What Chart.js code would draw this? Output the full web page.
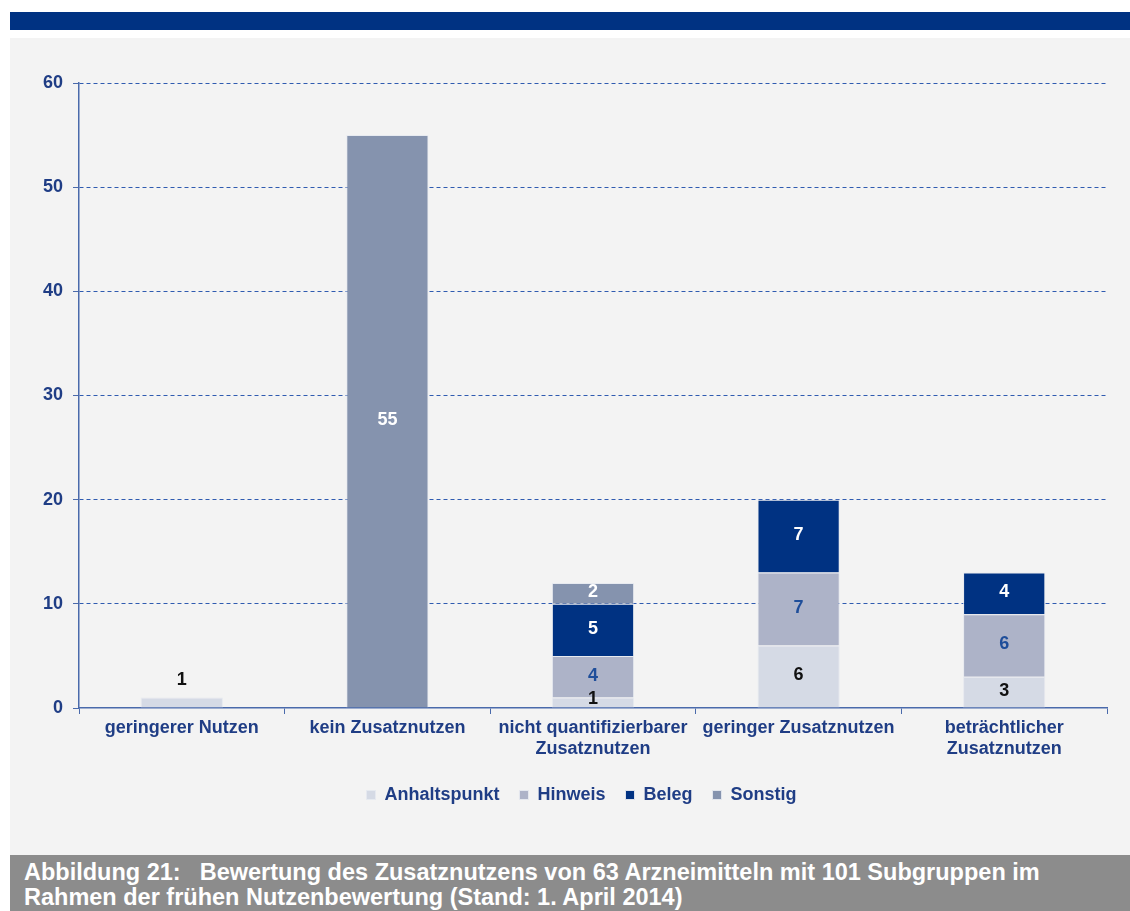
<!DOCTYPE html>
<html lang="de">
<head>
<meta charset="utf-8">
<script src="https://cdn.jsdelivr.net/npm/chart.js@4.4.1/dist/chart.umd.min.js"></script>
<style>
  body{margin:0;background:#fff;width:1130px;height:911px;overflow:hidden;font-family:"Liberation Sans",Arial,sans-serif;}
  #band{position:absolute;left:10px;top:12px;width:1120px;height:18px;background:#003282;}
  #panel{position:absolute;left:10px;top:38px;width:1120px;height:817px;background:#f3f3f3;}
  #caption{position:absolute;left:10px;top:855px;width:1120px;height:56px;background:#8c8c8c;color:#fff;overflow:hidden;
    font-weight:bold;font-size:23.5px;line-height:25px;padding:5px 0 0 14px;box-sizing:border-box;white-space:nowrap;}
  #caption .gap{display:inline-block;width:19px;}
</style>
</head>
<body>
<div id="band"></div>
<div id="panel"><canvas id="chart" width="1120" height="817"></canvas></div>
<div id="caption">Abbildung 21:<span class="gap"></span>Bewertung des Zusatznutzens von 63 Arzneimitteln mit 101 Subgruppen im<br>Rahmen der frühen Nutzenbewertung (Stand: 1. April 2014)</div>

<script>
// categories
const categories = [
  'geringerer Nutzen',
  'kein Zusatznutzen',
  ['nicht quantifizierbarer', 'Zusatznutzen'],
  'geringer Zusatznutzen',
  ['beträchtlicher', 'Zusatznutzen']
];

// series (null = no segment)
const anhaltspunkt = [1, null, 1, 6, 3];
const hinweis      = [null, null, 4, 7, 6];
const beleg        = [null, null, 5, 7, 4];
const sonstig      = [null, 55, 2, null, null];

const yTicks = [0, 10, 20, 30, 40, 50, 60];

const axisColor = '#4a6aab';
const gridColor = '#2f5bb0';
const textColor = '#1f3d85';
const fontFamily = '"Liberation Sans", Arial, sans-serif';
const labelFont = 'bold 18px ' + fontFamily;

// value labels inside / above the bars
const barLabels = {
  id: 'barLabels',
  afterDatasetsDraw(chart){
    const ctx = chart.ctx;
    ctx.save();
    ctx.font = labelFont;
    ctx.textAlign = 'center';
    ctx.textBaseline = 'middle';
    chart.data.datasets.forEach((ds, di) => {
      const meta = chart.getDatasetMeta(di);
      meta.data.forEach((bar, i) => {
        const v = ds.data[i];
        if(v == null) return;
        // is this the top segment of the stack?
        let top = true;
        for(let k = di + 1; k < chart.data.datasets.length; k++){
          if(chart.data.datasets[k].data[i] != null) top = false;
        }
        const h = Math.abs(bar.base - bar.y);
        let y = (bar.y + bar.base) / 2 - 1;
        if(top && h < 14) y = bar.y - 18;
        else if(h < 14) y -= 3;
        ctx.fillStyle = ds.labelColor;
        ctx.fillText(String(v), bar.x, y);
      });
    });
    ctx.restore();
  }
};

// legend sits a bit right of the canvas centre
const legendShift = {
  id: 'legendShift',
  afterLayout(chart){
    chart.legend.left += 23;
    chart.legend.right += 23;
  }
};

const ctx = document.getElementById('chart').getContext('2d');
new Chart(ctx, {
  type: 'bar',
  data: {
    labels: categories,
    datasets: [
      {label:'Anhaltspunkt', data:anhaltspunkt, backgroundColor:'#d5dae5', labelColor:'#111111'},
      {label:'Hinweis', data:hinweis, backgroundColor:'#adb3c8', labelColor:'#1f4e9a'},
      {label:'Beleg', data:beleg, backgroundColor:'#003282', labelColor:'#ffffff'},
      {label:'Sonstig', data:sonstig, backgroundColor:'#8593ae', labelColor:'#ffffff'}
    ].map(d => Object.assign(d, {
      borderColor:'rgba(230,233,240,0.9)', borderWidth:1, borderSkipped:'bottom',
      categoryPercentage:1, barPercentage:0.4
    }))
  },
  options: {
    responsive:false,
    animation:false,
    layout:{padding:{top:45, right:23, left:0, bottom:41}},
    plugins:{
      tooltip:{enabled:false},
      legend:{
        position:'bottom',
        labels:{
          boxWidth:9, boxHeight:9, padding:20,
          color:textColor,
          font:{family:fontFamily, size:18, weight:'bold'}
        }
      }
    },
    scales:{
      x:{
        stacked:true,
        afterFit: s => { s.height = 58; },
        grid:{offset:true, drawOnChartArea:false, drawTicks:true, tickLength:6, tickColor:axisColor},
        border:{color:axisColor, width:1.5},
        ticks:{
          color:textColor, padding:3, maxRotation:0, autoSkip:false,
          font:{family:fontFamily, size:18, weight:'bold'}
        }
      },
      y:{
        stacked:true,
        min:yTicks[0], max:yTicks[yTicks.length - 1],
        afterFit: s => { s.width = 69; },
        afterBuildTicks: s => { s.ticks = yTicks.map(v => ({value:v})); },
        grid:{
          color: c => c.tick && c.tick.value === 0 ? 'rgba(0,0,0,0)' : gridColor,
          lineWidth:1, drawTicks:true, tickLength:6, tickColor:axisColor, tickBorderDash:[]
        },
        border:{color:axisColor, width:1.5, dash:[4,3]},
        ticks:{
          color:textColor, padding:10,
          font:{family:fontFamily, size:18, weight:'bold'}
        }
      }
    }
  },
  plugins:[barLabels, legendShift]
});
</script>
</body>
</html>
